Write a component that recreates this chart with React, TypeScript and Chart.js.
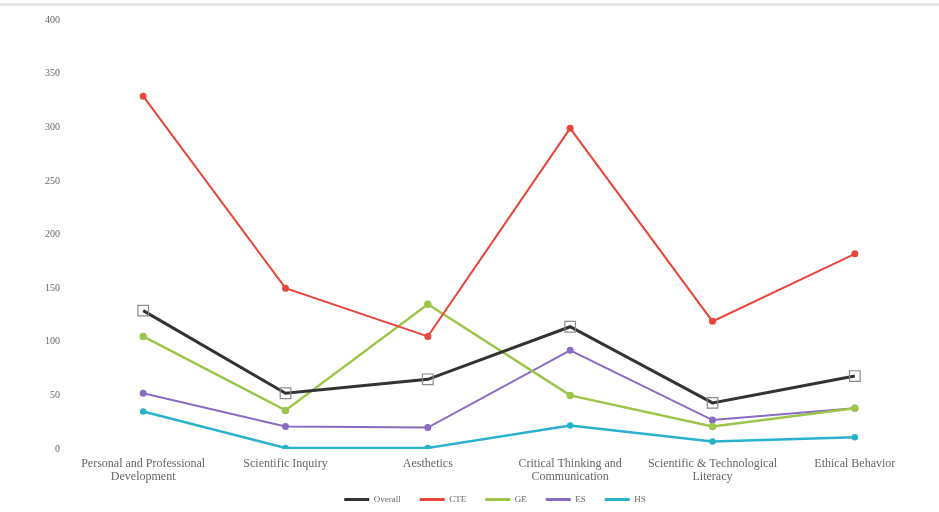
import React, { useEffect, useRef } from "react";
import { Chart, registerables } from "chart.js";

Chart.register(...registerables);

const categories: string[][] = [
  ["Personal and Professional", "Development"],
  ["Scientific Inquiry"],
  ["Aesthetics"],
  ["Critical Thinking and", "Communication"],
  ["Scientific & Technological", "Literacy"],
  ["Ethical Behavior"],
];

const overall = [129, 52, 65, 114, 43, 68];
const cte = [329, 150, 105, 299, 119, 182];
const ge = [105, 36, 135, 50, 21, 38];
const es = [52, 21, 20, 92, 27, 38];
const hs = [35, 1, 1, 22, 7, 11];

const seriesNames = ["Overall", "CTE", "GE", "ES", "HS"];
const yTicks = [0, 50, 100, 150, 200, 250, 300, 350, 400];

const legendMover = {
  id: "legendMover",
  beforeLayout(chart: any) {
    const lg = chart.legend;
    if (lg && !lg._patched) {
      const orig = lg.fit.bind(lg);
      lg.fit = () => {
        orig();
        lg.height = 27;
      };
      lg._patched = true;
    }
  },
  afterLayout(chart: any) {
    const lg = chart.legend;
    if (!lg) return;
    lg.top = 476;
    lg.bottom = 476 + 27;
    lg.left = 64;
    lg.right = 926;
    lg.width = lg.right - lg.left;
  },
};

export default function App() {
  const ref = useRef<HTMLCanvasElement | null>(null);

  useEffect(() => {
    if (!ref.current) return;
    const font = { family: "'Liberation Serif', 'Times New Roman', serif" };
    const chart = new Chart(ref.current, {
      type: "line",
      data: {
        labels: categories,
        datasets: [
          {
            label: seriesNames[0],
            data: overall,
            borderColor: "#333333",
            backgroundColor: "#333333",
            borderWidth: 3,
            pointStyle: "rect",
            pointRadius: 7.5,
            pointBorderColor: "#8a8a8a",
            pointBackgroundColor: "rgba(255,255,255,0)",
            pointBorderWidth: 1.2,
          },
          {
            label: seriesNames[1],
            data: cte,
            borderColor: "#e8453c",
            backgroundColor: "#e8453c",
            borderWidth: 2,
            pointRadius: 2.5,
            pointBackgroundColor: "#e8453c",
          },
          {
            label: seriesNames[2],
            data: ge,
            borderColor: "#9cc54a",
            backgroundColor: "#9cc54a",
            borderWidth: 2.5,
            pointRadius: 2.5,
            pointBackgroundColor: "#9cc54a",
          },
          {
            label: seriesNames[3],
            data: es,
            borderColor: "#8a6bc4",
            backgroundColor: "#8a6bc4",
            borderWidth: 2,
            pointRadius: 2.5,
            pointBackgroundColor: "#8a6bc4",
          },
          {
            label: seriesNames[4],
            data: hs,
            borderColor: "#2ab1cc",
            backgroundColor: "#2ab1cc",
            borderWidth: 2.5,
            pointRadius: 2,
            pointBackgroundColor: "#2ab1cc",
          },
        ],
      },
      plugins: [legendMover],
      options: {
        animation: false,
        responsive: false,
        maintainAspectRatio: false,
        layout: { padding: { top: 20, right: 13, left: 0, bottom: 0 } },
        plugins: {
          legend: {
            position: "bottom",
            labels: {
              usePointStyle: true,
              pointStyle: "line",
              pointStyleWidth: 25,
              boxHeight: 4,
              padding: 19,
              color: "#666666",
              font: { ...font, size: 9 },
              generateLabels: (c: any) =>
                c.data.datasets.map((d: any, i: number) => ({
                  text: d.label,
                  fillStyle: d.borderColor,
                  strokeStyle: d.borderColor,
                  lineWidth: 3,
                  pointStyle: "line",
                  datasetIndex: i,
                  hidden: false,
                  fontColor: "#666666",
                })),
            },
          },
          tooltip: { enabled: false },
        },
        scales: {
          x: {
            offset: true,
            grid: { display: false, drawTicks: false },
            border: { display: false },
            ticks: {
              color: "#666666",
              font: { ...font, size: 12, lineHeight: 1.1 },
              maxRotation: 0,
              autoSkip: false,
              padding: 8,
            },
            afterFit: (s: any) => {
              s.height = 36;
            },
          },
          y: {
            min: 0,
            max: 400,
            afterBuildTicks: (s: any) => {
              s.ticks = yTicks.map((v) => ({ value: v }));
            },
            grid: { display: false, drawTicks: false },
            border: { display: false },
            ticks: {
              color: "#666666",
              font: { ...font, size: 10 },
              padding: 12,
            },
            afterFit: (s: any) => {
              s.width = 72;
            },
          },
        },
      },
    });
    return () => chart.destroy();
  }, []);

  return (
    <div style={{ position: "fixed", left: 0, top: 0, width: 939, height: 512, background: "#fff" }}>
      <div style={{ position: "absolute", left: 0, top: 3, width: 939, height: 3, background: "#e3e5e6" }} />
      <canvas ref={ref} width={939} height={512} style={{ display: "block" }} />
    </div>
  );
}
